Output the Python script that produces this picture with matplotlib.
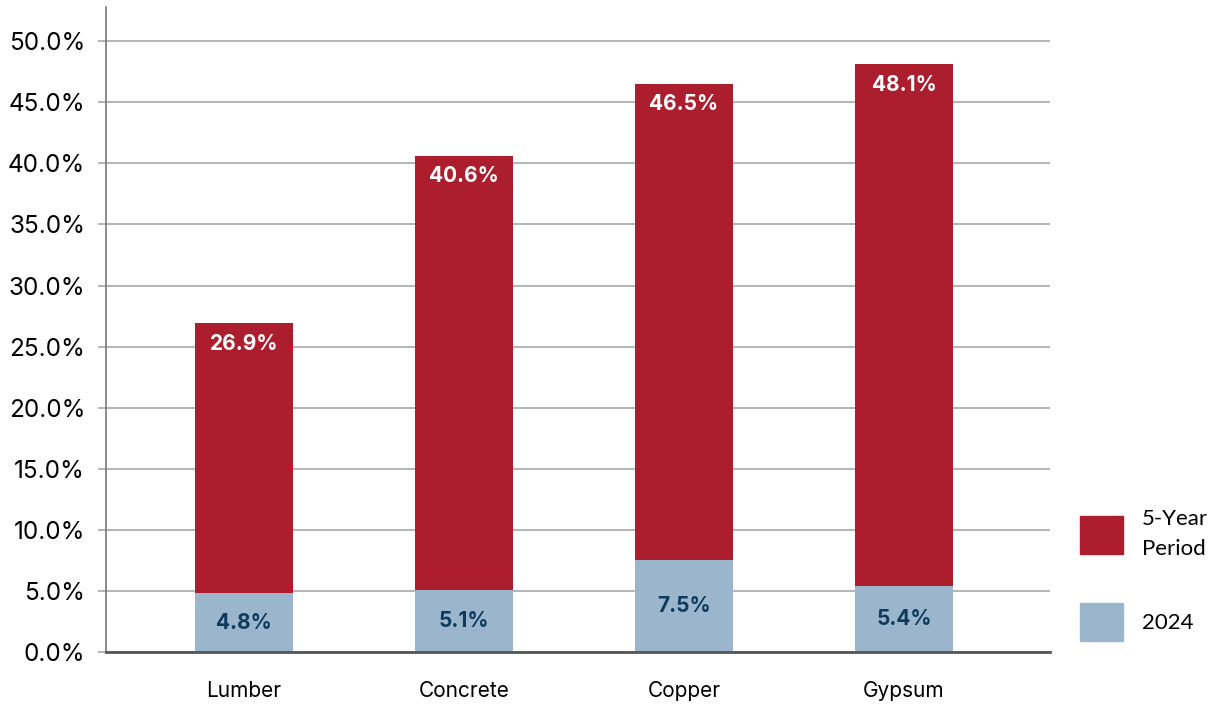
import matplotlib.pyplot as plt
from matplotlib.patches import Patch

categories = ['Lumber', 'Concrete', 'Copper', 'Gypsum']
five_year = [26.9, 40.6, 46.5, 48.1]
year_2024 = [4.8, 5.1, 7.5, 5.4]
yticks = [0, 5, 10, 15, 20, 25, 30, 35, 40, 45, 50]

red = '#AC1E2E'
blue = '#9BB6CC'
dark = '#0E3A5B'

plt.rcParams['font.family'] = ['Inter', 'DejaVu Sans']

fig = plt.figure(figsize=(12.18, 7.05), dpi=100)
ax = fig.add_axes([106 / 1218, 53 / 705, 944 / 1218, 645 / 705])

x = list(range(len(categories)))
w = 0.445
bars_red = ax.bar(x, five_year, width=w, color=red, zorder=2)
bars_blue = ax.bar(x, year_2024, width=w, color=blue, zorder=3)

for b, v in zip(bars_red, five_year):
    ax.annotate(f'{v:.1f}%', (b.get_x() + b.get_width() / 2, v),
                xytext=(0, -14.5), textcoords='offset points',
                ha='center', va='center', color='white',
                fontsize=15, fontweight='bold', zorder=4)
for b, v in zip(bars_blue, year_2024):
    ax.text(b.get_x() + b.get_width() / 2, v / 2, f'{v:.1f}%',
            ha='center', va='center', color=dark,
            fontsize=15, fontweight='bold', zorder=4)

ax.set_xlim(-0.627, 3.664)
ax.set_ylim(0, 52.8)
ax.set_yticks(yticks)
ax.set_yticklabels([f'{t:.1f}%' for t in yticks])
ax.set_xticks(x)
ax.set_xticklabels(categories)

ax.grid(axis='y', color='#A8A8A8', linewidth=1.2, zorder=0)
ax.tick_params(axis='y', length=6, color='#A8A8A8', width=1.2, pad=9, labelsize=17.5)
ax.tick_params(axis='x', length=0, pad=21, labelsize=15)

for s in ['top', 'right']:
    ax.spines[s].set_visible(False)
ax.spines['left'].set_color('#777777')
ax.spines['left'].set_linewidth(1.2)
ax.spines['bottom'].set_color('#555555')
ax.spines['bottom'].set_linewidth(2)
ax.spines['bottom'].set_zorder(5)

handles = [Patch(color=red), Patch(color=blue)]
leg = ax.legend(handles, ['5-Year\nPeriod', '2024'], loc='lower left',
                bbox_to_anchor=(1.022, 0.003), frameon=False,
                prop={'family': 'Lato', 'size': 16},
                handlelength=1.94, handleheight=2.25, labelspacing=2.0,
                handletextpad=0.85, borderaxespad=0)
for t in leg.get_texts():
    t.set_linespacing(1.6)

fig.savefig('out.png', dpi=100)
